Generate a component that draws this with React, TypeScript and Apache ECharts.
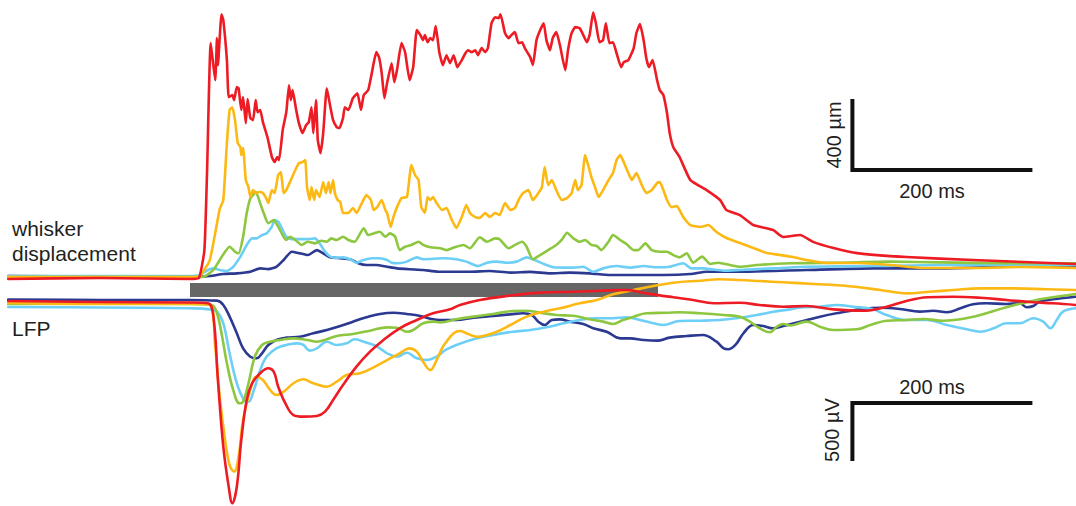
import React, { useEffect, useRef } from "react";
import * as echarts from "echarts";

const W = 1076;
const H = 506;

// Pixel scales taken from the calibration bars
const MS_PER_PX = 200 / 180;
const UM_PER_PX = 400 / 71;
const UV_PER_PX = 500 / 58;

// Stimulus window (ms from onset)
const STIMULUS = [0, 520];

// Calibration bars
const SCALE_TIME_MS = 200;
const SCALE_WHISKER_UM = 400;
const SCALE_LFP_UV = 500;

const COLORS = {
  blue: "#2B3990",
  cyan: "#6DCFF6",
  green: "#8DC63F",
  yellow: "#FDB913",
  red: "#ED1C24",
};

// Whisker displacement traces: [time ms, displacement µm]
const whiskerRed = [[-202,-17],[-100,-11],[0,-17],[10,-11],[16,146],[19,597],[23,1312],[28,1103],[30,1340],[31,1188],[35,1475],[37,1441],[41,1216],[43,1008],[47,1019],[49,991],[52,1064],[54,1058],[57,935],[59,1008],[62,861],[64,997],[67,890],[70,878],[73,991],[75,923],[78,935],[81,867],[86,783],[91,670],[94,642],[97,670],[99,653],[103,822],[107,923],[110,1075],[112,991],[114,1047],[118,935],[121,861],[125,805],[129,850],[132,867],[135,951],[137,805],[140,991],[142,766],[145,692],[148,805],[152,1058],[156,951],[159,878],[163,839],[166,833],[170,890],[172,951],[176,935],[181,1002],[186,1030],[190,935],[193,1019],[198,1047],[202,1143],[207,1261],[210,1233],[213,1143],[216,1002],[219,1087],[224,1199],[227,1092],[230,1160],[235,1312],[239,1261],[244,1103],[248,1177],[252,1385],[256,1357],[259,1329],[261,1357],[264,1317],[267,1340],[270,1329],[273,1408],[277,1261],[281,1188],[285,1244],[289,1199],[293,1244],[297,1177],[302,1216],[306,1255],[309,1272],[313,1261],[317,1272],[320,1244],[324,1284],[328,1261],[331,1284],[335,1424],[339,1458],[343,1453],[345,1475],[350,1368],[354,1340],[357,1357],[361,1374],[365,1312],[369,1317],[372,1284],[378,1233],[381,1188],[385,1329],[389,1385],[393,1424],[396,1329],[400,1272],[403,1340],[407,1374],[411,1301],[417,1160],[420,1272],[424,1368],[428,1402],[433,1396],[437,1357],[441,1317],[444,1357],[448,1486],[451,1424],[455,1317],[459,1329],[462,1424],[466,1312],[470,1317],[474,1255],[479,1177],[482,1205],[487,1216],[493,1284],[496,1368],[500,1419],[504,1329],[507,1227],[510,1177],[514,1216],[519,1103],[522,1047],[526,1019],[530,918],[533,805],[537,726],[544,670],[556,540],[574,484],[589,428],[596,372],[611,343],[626,287],[648,259],[659,220],[678,231],[693,191],[715,158],[741,129],[796,107],[870,90],[926,79],[984,68]];

const whiskerYellow = [[-202,-6],[0,-6],[11,0],[22,90],[33,377],[37,428],[41,749],[44,935],[47,951],[50,878],[53,749],[56,726],[57,681],[59,721],[62,540],[65,501],[67,445],[70,484],[73,467],[77,473],[81,467],[84,445],[87,411],[91,484],[94,467],[98,569],[101,586],[104,467],[107,484],[111,529],[117,597],[121,636],[125,642],[128,653],[130,501],[133,428],[135,501],[138,428],[140,484],[144,445],[148,529],[151,467],[154,529],[156,467],[159,540],[161,467],[164,428],[167,417],[170,355],[176,355],[181,383],[185,355],[191,411],[196,456],[201,428],[204,372],[208,388],[213,428],[217,372],[219,355],[223,276],[226,332],[230,388],[235,439],[241,445],[246,625],[250,569],[254,540],[257,388],[261,355],[264,445],[267,428],[270,445],[274,411],[280,372],[285,383],[291,315],[296,270],[302,332],[307,400],[311,355],[317,332],[322,327],[328,355],[333,332],[339,355],[344,343],[350,411],[356,372],[361,383],[365,428],[370,467],[376,484],[381,428],[387,467],[391,501],[394,614],[398,512],[402,540],[407,484],[413,428],[419,439],[424,467],[428,540],[431,484],[435,512],[439,681],[443,614],[446,557],[450,501],[454,445],[459,484],[465,540],[470,580],[474,653],[478,681],[481,653],[487,580],[491,540],[496,580],[502,512],[507,467],[513,484],[519,524],[522,529],[526,484],[530,428],[535,388],[541,394],[548,332],[556,287],[567,276],[576,287],[585,248],[596,214],[611,186],[626,158],[641,129],[656,118],[670,107],[685,90],[707,73],[741,73],[778,62],[815,45],[870,45],[926,51],[984,45]];

const whiskerGreen = [[-202,-6],[0,-6],[15,-4],[26,34],[33,90],[39,137],[44,165],[50,137],[54,128],[59,221],[63,353],[67,437],[70,456],[73,475],[78,409],[82,353],[87,297],[93,315],[98,278],[104,221],[107,203],[111,221],[117,203],[124,175],[131,193],[139,184],[146,199],[152,193],[157,212],[163,203],[170,221],[176,203],[183,193],[193,269],[198,231],[204,240],[211,249],[217,221],[222,240],[228,221],[233,146],[239,165],[246,175],[254,193],[259,175],[267,162],[278,156],[285,146],[294,162],[304,175],[311,156],[322,218],[330,193],[339,212],[344,207],[354,156],[361,175],[369,193],[374,165],[381,94],[389,118],[398,146],[407,175],[413,203],[419,244],[426,212],[433,193],[439,203],[446,175],[452,169],[457,146],[465,193],[470,231],[478,203],[485,180],[493,146],[498,146],[506,184],[513,146],[522,137],[530,137],[537,118],[544,105],[552,128],[559,75],[569,109],[578,68],[587,75],[600,62],[611,52],[630,62],[667,72],[722,75],[778,81],[833,77],[907,72],[984,72]];

const whiskerCyan = [[-202,0],[0,0],[11,6],[20,34],[26,43],[33,34],[41,28],[48,52],[56,109],[63,175],[69,212],[74,212],[80,231],[85,240],[91,278],[94,315],[98,306],[103,259],[107,221],[113,208],[122,208],[131,208],[139,212],[144,184],[150,137],[156,109],[163,103],[170,105],[178,94],[185,75],[193,90],[202,100],[211,100],[219,90],[224,75],[231,72],[241,81],[252,105],[259,94],[267,96],[281,100],[296,94],[307,81],[320,56],[330,75],[341,81],[352,75],[363,81],[374,105],[381,94],[393,68],[404,49],[415,47],[426,47],[437,52],[448,24],[459,43],[474,56],[489,47],[504,56],[519,49],[533,52],[548,72],[557,43],[570,43],[593,30],[611,34],[648,43],[685,52],[759,56],[833,62],[907,62],[984,62]];

const whiskerBlue = [[-202,0],[0,-6],[22,0],[37,11],[52,15],[67,24],[78,43],[87,39],[96,52],[104,90],[113,137],[122,128],[131,118],[141,146],[148,128],[156,105],[167,100],[178,94],[187,72],[196,62],[207,62],[219,52],[230,43],[244,38],[259,34],[276,24],[289,24],[311,24],[333,28],[356,19],[378,23],[400,15],[422,19],[444,15],[467,6],[489,6],[526,6],[556,11],[574,24],[611,24],[685,34],[759,43],[833,43],[907,52],[984,58]];

// LFP traces: [time ms, potential µV]
const lfpRed = [[-202,0],[-100,-9],[0,-13],[20,-20],[26,-135],[31,-681],[37,-1256],[43,-1601],[47,-1744],[52,-1601],[57,-1198],[63,-853],[69,-709],[78,-623],[87,-580],[93,-609],[98,-739],[106,-882],[115,-983],[126,-997],[141,-991],[150,-954],[159,-853],[170,-724],[185,-566],[200,-437],[215,-336],[233,-235],[252,-164],[270,-106],[289,-72],[300,-34],[322,9],[352,43],[389,72],[426,80],[456,89],[485,95],[507,66],[537,32],[559,9],[582,-20],[611,-15],[633,-34],[659,-49],[685,-43],[715,-72],[748,-84],[774,-49],[796,0],[819,32],[848,37],[878,28],[907,9],[937,-11],[959,-20],[984,-34]];

const lfpYellow = [[-202,-17],[-100,-26],[0,-26],[22,-34],[28,-394],[33,-825],[39,-1198],[44,-1414],[49,-1471],[54,-1342],[59,-1026],[67,-767],[74,-653],[81,-681],[89,-767],[96,-810],[104,-782],[115,-709],[126,-675],[137,-709],[152,-739],[163,-696],[174,-638],[189,-623],[204,-572],[219,-509],[233,-451],[244,-408],[252,-437],[259,-523],[267,-595],[274,-509],[281,-394],[285,-351],[293,-278],[300,-259],[307,-278],[319,-308],[330,-293],[341,-265],[356,-207],[374,-135],[393,-92],[411,-63],[433,-20],[452,9],[470,58],[493,95],[515,129],[537,158],[567,175],[589,187],[611,181],[633,172],[659,161],[693,147],[730,129],[767,95],[796,66],[822,80],[848,95],[878,109],[915,109],[952,101],[984,95]];

const lfpGreen = [[-202,-26],[-100,-22],[0,-26],[24,-34],[30,-106],[35,-278],[41,-537],[48,-767],[55,-882],[59,-868],[65,-709],[72,-480],[80,-379],[89,-351],[100,-336],[115,-322],[130,-336],[141,-351],[152,-330],[163,-302],[181,-284],[200,-256],[219,-227],[230,-230],[241,-265],[248,-250],[259,-192],[270,-178],[278,-184],[296,-158],[315,-135],[337,-112],[359,-86],[374,-84],[389,-101],[407,-121],[426,-127],[444,-158],[459,-178],[470,-198],[481,-164],[493,-135],[507,-106],[530,-101],[544,-97],[567,-106],[593,-121],[611,-135],[622,-178],[633,-235],[644,-270],[652,-222],[659,-198],[667,-211],[685,-178],[700,-222],[715,-250],[741,-244],[756,-207],[774,-170],[796,-164],[815,-155],[837,-170],[856,-158],[878,-121],[907,-54],[937,3],[959,32],[984,60]];

const lfpCyan = [[-202,-52],[-100,-56],[0,-63],[22,-72],[30,-92],[37,-192],[44,-451],[52,-709],[59,-839],[65,-868],[71,-767],[78,-595],[85,-480],[96,-408],[107,-379],[119,-365],[126,-379],[133,-428],[141,-408],[152,-351],[163,-379],[174,-365],[183,-330],[193,-351],[204,-379],[211,-408],[219,-451],[230,-480],[241,-446],[252,-494],[263,-509],[274,-480],[284,-422],[296,-379],[315,-330],[337,-293],[359,-265],[378,-250],[396,-227],[415,-192],[433,-164],[452,-149],[470,-149],[485,-141],[500,-164],[515,-192],[526,-207],[544,-172],[567,-170],[589,-164],[607,-149],[630,-121],[648,-92],[667,-72],[678,-56],[700,-49],[719,-34],[737,-49],[759,-72],[774,-121],[796,-164],[819,-164],[841,-207],[863,-244],[878,-265],[893,-235],[907,-192],[922,-192],[937,-149],[948,-178],[956,-235],[963,-164],[970,-92],[984,-63]];

const lfpBlue = [[-202,13],[-100,9],[0,9],[30,3],[37,-34],[44,-135],[52,-278],[59,-408],[67,-480],[74,-494],[80,-451],[87,-379],[96,-336],[107,-316],[122,-308],[137,-278],[152,-250],[167,-216],[181,-178],[196,-141],[211,-112],[226,-101],[241,-112],[256,-129],[270,-158],[278,-164],[296,-164],[315,-144],[337,-129],[356,-115],[370,-106],[380,-121],[387,-178],[394,-207],[402,-164],[411,-158],[422,-178],[437,-198],[448,-235],[463,-265],[478,-322],[489,-322],[504,-336],[519,-342],[533,-316],[552,-302],[570,-293],[585,-351],[593,-408],[598,-416],[606,-379],[615,-278],[626,-207],[637,-216],[648,-235],[659,-216],[678,-178],[700,-135],[722,-101],[744,-72],[767,-58],[789,-69],[811,-92],[826,-84],[841,-97],[856,-63],[870,-28],[885,-20],[907,-26],[922,-20],[930,-54],[937,-43],[944,-6],[959,15],[984,37]];

const TEXT_COLOR = "#231F20";
const FONT = '"Liberation Sans", Arial, Helvetica, sans-serif';

export default function App() {
  const ref = useRef<HTMLDivElement>(null);

  useEffect(() => {
    if (!ref.current) return;
    const chart = echarts.init(ref.current, null, { renderer: "svg" });

    // Layout: both panels share the time axis
    const plotLeft = 8;
    const plotWidth = W - plotLeft;
    const onsetPx = 190;
    const xMin = -(onsetPx - plotLeft) * MS_PER_PX;
    const xMax = xMin + plotWidth * MS_PER_PX;

    const topGrid = { top: 0, height: 300, zero: 276 };
    const lfpGrid = { top: 270, height: 236, zero: 301 };

    // Calibration bar corners
    const tCal = 736;
    const whiskerCal = 597;
    const lfpCal = -879;

    const trace = (data: number[][], color: string, panel: number, smooth: number, z: number) => ({
      type: "line",
      xAxisIndex: panel,
      yAxisIndex: panel,
      data,
      symbol: "none",
      showSymbol: false,
      smooth,
      silent: true,
      z,
      lineStyle: { color, width: 2.6, cap: "round", join: "round" },
    });

    const calBar = (data: number[][], panel: number) => ({
      type: "line",
      xAxisIndex: panel,
      yAxisIndex: panel,
      data,
      symbol: "none",
      silent: true,
      z: 5,
      lineStyle: { color: "#111", width: 4, cap: "butt", join: "miter" },
    });

    const text = (t: string, x: number, y: number, align: string, rotation = 0, size = 20) => ({
      type: "text",
      x,
      y,
      rotation,
      silent: true,
      style: {
        text: t,
        fill: TEXT_COLOR,
        font: `${size}px ${FONT}`,
        align,
        verticalAlign: "middle",
      },
    });

    chart.setOption({
      animation: false,
      backgroundColor: "#ffffff",
      grid: [
        { left: plotLeft, width: plotWidth, top: topGrid.top, height: topGrid.height },
        { left: plotLeft, width: plotWidth, top: lfpGrid.top, height: lfpGrid.height },
      ],
      xAxis: [0, 1].map((i) => ({
        type: "value",
        gridIndex: i,
        min: xMin,
        max: xMax,
        show: false,
      })),
      yAxis: [
        {
          type: "value",
          gridIndex: 0,
          min: -(topGrid.height - topGrid.zero) * UM_PER_PX,
          max: topGrid.zero * UM_PER_PX,
          show: false,
        },
        {
          type: "value",
          gridIndex: 1,
          min: -(lfpGrid.top + lfpGrid.height - lfpGrid.zero) * UV_PER_PX,
          max: (lfpGrid.zero - lfpGrid.top) * UV_PER_PX,
          show: false,
        },
      ],
      series: [
        {
          type: "line",
          xAxisIndex: 1,
          yAxisIndex: 1,
          data: [],
          silent: true,
          z: 1,
          markArea: {
            silent: true,
            itemStyle: { color: "#666666" },
            data: [
              [
                { coord: [STIMULUS[0], 18 * UV_PER_PX] },
                { coord: [STIMULUS[1], 4 * UV_PER_PX] },
              ],
            ],
          },
        },
        trace(whiskerBlue, COLORS.blue, 0, 0.2, 2),
        trace(whiskerCyan, COLORS.cyan, 0, 0.2, 2),
        trace(whiskerGreen, COLORS.green, 0, 0.2, 2),
        trace(whiskerYellow, COLORS.yellow, 0, 0.15, 2),
        trace(whiskerRed, COLORS.red, 0, 0.15, 2),
        trace(lfpBlue, COLORS.blue, 1, 0.4, 2),
        trace(lfpCyan, COLORS.cyan, 1, 0.4, 2),
        trace(lfpGreen, COLORS.green, 1, 0.4, 2),
        trace(lfpYellow, COLORS.yellow, 1, 0.4, 2),
        trace(lfpRed, COLORS.red, 1, 0.4, 2),
        calBar(
          [
            [tCal, whiskerCal + SCALE_WHISKER_UM],
            [tCal, whiskerCal],
            [tCal + SCALE_TIME_MS, whiskerCal],
          ],
          0
        ),
        calBar(
          [
            [tCal + SCALE_TIME_MS, lfpCal],
            [tCal, lfpCal],
            [tCal, lfpCal - SCALE_LFP_UV],
          ],
          1
        ),
      ],
      graphic: [
        text("whisker", 12, 228, "left", 0, 21),
        text("displacement", 12, 253, "left", 0, 21),
        text("LFP", 12, 328, "left", 0, 21),
        text("400 µm", 834, 135, "center", Math.PI / 2),
        text("200 ms", 932, 191, "center"),
        text("200 ms", 932, 387, "center"),
        text("500 µV", 832, 430, "center", Math.PI / 2),
      ],
    });

    return () => chart.dispose();
  }, []);

  return (
    <div
      ref={ref}
      style={{ position: "absolute", left: 0, top: 0, width: W, height: H }}
    />
  );
}
